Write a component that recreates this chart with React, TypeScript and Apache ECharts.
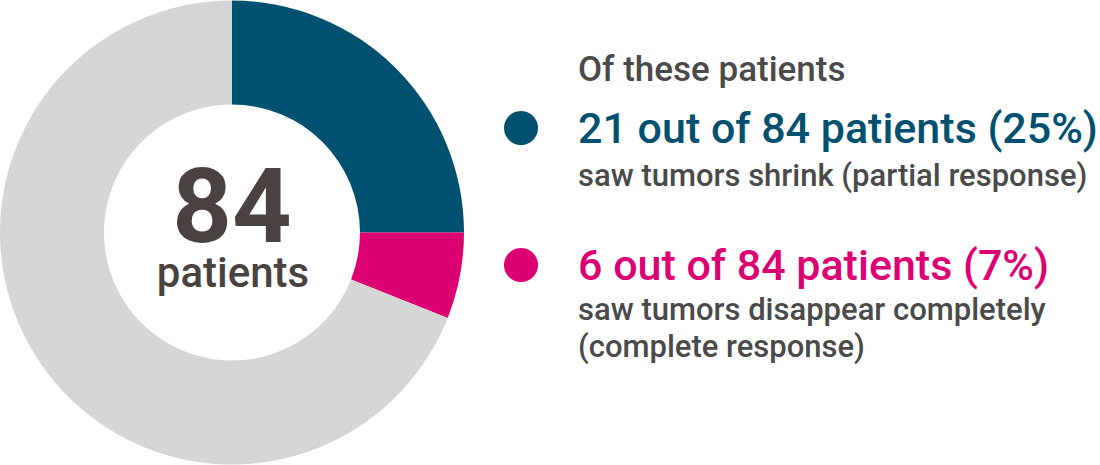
import React, { useEffect, useRef } from "react";
import * as echarts from "echarts";

const categories = ["Partial response", "Complete response", "Other"];
const sliceShares = [25, 6, 69];
const sliceColors = ["#00506f", "#dc0073", "#d6d6d6"];
const totalLabel = "84";
const totalUnit = "patients";
const introLine = "Of these patients";
const headlines = ["21 out of 84 patients (25%)", "6 out of 84 patients (7%)"];
const descriptions = [
  ["saw tumors shrink (partial response)"],
  ["saw tumors disappear completely", "(complete response)"],
];

const FONT = "Roboto, 'Noto Sans', sans-serif";
const GREY = "#4a4a4a";
const CENTRAL = 0.342;

function textAt(
  text: string,
  x: number,
  baseline: number,
  size: number,
  weight: string,
  fill: string,
  align = "left",
  lineHeight = Math.round(size * 1.1)
) {
  return {
    type: "text",
    x,
    y: baseline - CENTRAL * size,
    style: {
      text,
      fill,
      font: `${weight} ${size}px ${FONT}`,
      textAlign: align,
      textVerticalAlign: "middle",
      verticalAlign: "middle",
      lineHeight,
    },
  };
}

export default function App() {
  const ref = useRef<HTMLDivElement>(null);
  useEffect(() => {
    if (!ref.current) return;
    const chart = echarts.init(ref.current, undefined, { renderer: "svg" });

    const headlineBaselines = [143, 280];
    const descBaselines = [[186], [320, 357]];
    const graphics: any[] = [];
    graphics.push(textAt(totalLabel, 232, 242, 104, "bold", "#4a4240", "center", 78));
    graphics.push(textAt(totalUnit, 233, 287, 42, "500", "#4a4240", "center", 44));
    graphics.push(textAt(introLine, 578, 81, 35, "500", GREY));
    headlines.forEach((h, i) => {
      const base = headlineBaselines[i];
      graphics.push({
        type: "circle",
        shape: { cx: 521, cy: base - 15, r: 17 },
        style: { fill: sliceColors[i] },
      });
      graphics.push(textAt(h, 578, base, 43, "500", sliceColors[i]));
      descriptions[i].forEach((d, j) => {
        graphics.push(textAt(d, 578, descBaselines[i][j], 31, "500", GREY, "left", 34));
      });
    });

    chart.setOption({
      animation: false,
      series: [
        {
          type: "pie",
          center: [232, 232.5],
          radius: [128, 232],
          startAngle: 90,
          clockwise: true,
          silent: true,
          label: { show: false },
          labelLine: { show: false },
          itemStyle: { borderWidth: 0 },
          emphasis: { disabled: true },
          data: categories.map((c, i) => ({
            name: c,
            value: sliceShares[i],
            itemStyle: { color: sliceColors[i] },
          })),
        },
      ],
      graphic: graphics,
    });
    return () => chart.dispose();
  }, []);
  return (
    <div
      ref={ref}
      style={{ position: "absolute", left: 0, top: 0, width: 1100, height: 465, background: "#fff" }}
    />
  );
}
